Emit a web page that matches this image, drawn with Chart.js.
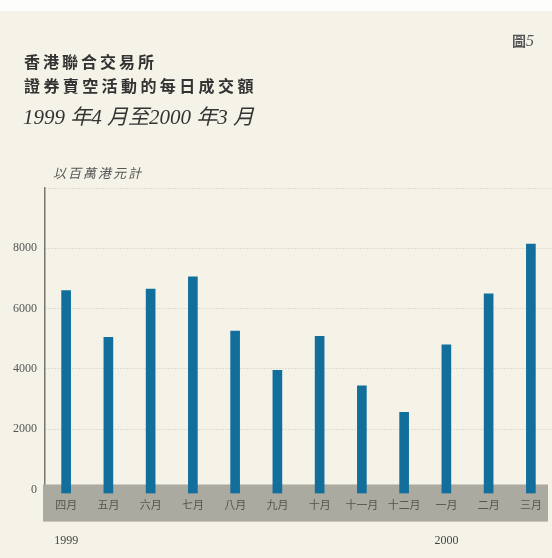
<!DOCTYPE html>
<html>
<head>
<meta charset="utf-8">
<script src="https://cdn.jsdelivr.net/npm/chart.js@4.4.1/dist/chart.umd.min.js"></script>
<style>
  html, body { margin: 0; padding: 0; }
  body { width: 552px; height: 558px; background: #f5f3e8; position: relative; overflow: hidden; }
  #topstrip { position: absolute; left: 0; top: 0; width: 552px; height: 11px; background: #fdfdfb; }
  #wrap { position: absolute; left: 0; top: 0; width: 552px; height: 558px; }
  .t { position: absolute; white-space: nowrap; color: #333; }
  #fig { left: 512px; top: 30px; font: bold 14px "Noto Sans CJK TC"; color: #555; }
  #fig i { font: italic 16px "Liberation Serif"; font-weight: normal; }
  #t1 { left: 24px; top: 51px; font: bold 16px "Noto Sans CJK TC"; letter-spacing: 3px; line-height: 20px; }
  #t2 { left: 24px; top: 75px; font: bold 16px "Noto Sans CJK TC"; letter-spacing: 3.4px; line-height: 20px; }
  #t3 { left: 23px; top: 104px; font: italic 21px "Liberation Serif", "Noto Sans CJK TC"; letter-spacing: 0; line-height: 26px; }
  #unit { left: 53px; top: 165px; font: italic 13px "Liberation Serif", "Noto Sans CJK TC"; letter-spacing: 2px; color: #555; line-height: 18px; }
</style>
</head>
<body>
<div id="topstrip"></div>
<div id="wrap"><canvas id="chart" width="552" height="558"></canvas></div>
<div class="t" id="fig">圖<i>5</i></div>
<div class="t" id="t1">香港聯合交易所</div>
<div class="t" id="t2">證券賣空活動的每日成交額</div>
<div class="t" id="t3">1999 年4 月至2000 年3 月</div>
<div class="t" id="unit">以百萬港元計</div>
<script>
// monthly short-selling turnover, HK$ million
var months = ['四月', '五月', '六月', '七月', '八月', '九月', '十月', '十一月', '十二月', '一月', '二月', '三月'];
var turnover = [6600, 5050, 6650, 7050, 5250, 3950, 5080, 3440, 2560, 4800, 6490, 8140];
var yearLabels = ['1999', '', '', '', '', '', '', '', '', '2000', '', ''];
var yTicks = [0, 2000, 4000, 6000, 8000, 10000];

// grey strip behind the month names
var bandPlugin = {
    id: 'band',
    beforeDatasetsDraw: function(chart) {
        var ctx = chart.ctx,
            y = chart.scales.y,
            x = chart.scales.x;
        var top = y.getPixelForValue(0) - 5;
        var bottom = x.bottom + 5;
        ctx.save();
        ctx.fillStyle = '#abaaa0';
        ctx.fillRect(chart.chartArea.left - 2, top, chart.chartArea.right - chart.chartArea.left - 2, bottom - top);
        ctx.restore();
    }
};

new Chart(document.getElementById('chart'), {
    type: 'bar',
    data: {
        labels: months,
        datasets: [{
            data: turnover,
            backgroundColor: '#126e9b',
            barThickness: 9,
            base: -130
        }]
    },
    options: {
        responsive: false,
        animation: false,
        layout: { padding: { top: 188, left: 0, right: 0, bottom: -7 } },
        plugins: { legend: { display: false }, tooltip: { enabled: false } },
        scales: {
            x: {
                grid: { display: false, drawTicks: false },
                border: { display: false },
                ticks: {
                    z: 1,
                    padding: 5,
                    color: '#56564e',
                    font: { family: 'Noto Sans CJK TC', size: 11 },
                    maxRotation: 0,
                    autoSkip: false
                }
            },
            x2: {
                type: 'category',
                labels: yearLabels,
                position: 'bottom',
                offset: true,
                grid: { display: false, drawTicks: false },
                border: { display: false },
                ticks: {
                    z: 1,
                    padding: 17,
                    color: '#444',
                    font: { family: 'Liberation Serif', size: 12 },
                    maxRotation: 0,
                    autoSkip: false
                }
            },
            y: {
                min: -130,
                max: 10000,
                afterBuildTicks: function(scale) {
                    scale.ticks = yTicks.map(function(v) { return { value: v }; });
                },
                afterFit: function(scale) {
                    scale.width = 45;
                },
                grid: {
                    drawTicks: false,
                    color: function(c) { return c.tick && c.tick.value === 0 ? 'rgba(0,0,0,0)' : '#c9c7bb'; },
                    lineWidth: 1
                },
                border: { display: true, color: '#77776f', width: 1.5, dash: [1, 2] },
                ticks: {
                    padding: 8,
                    color: '#555',
                    font: { family: 'Liberation Serif', size: 12 },
                    callback: function(v) { return v === 10000 ? '' : v; }
                }
            }
        }
    },
    plugins: [bandPlugin]
});
</script>
</body>
</html>
